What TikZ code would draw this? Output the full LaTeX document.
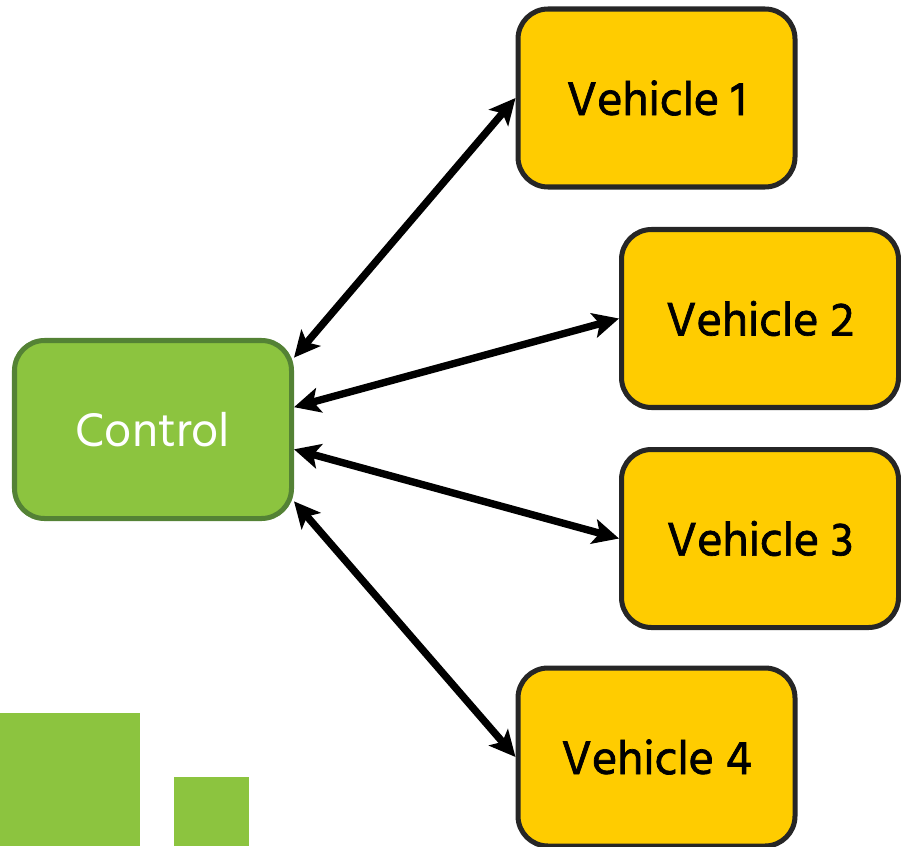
\documentclass[tikz,border=0pt]{standalone}
\usepackage{fontspec}
\setmainfont{Hind Madurai}
\newfontfamily\vehfont{Hind Madurai}[FakeBold=1.4]
\usetikzlibrary{positioning,arrows.meta}

\definecolor{ctrlgreen}{HTML}{8CC43F}
\definecolor{ctrledge}{HTML}{548235}
\definecolor{vehyellow}{HTML}{FFCC00}
\definecolor{vehedge}{HTML}{262626}

\tikzset{
  unitbox/.style={rounded corners=0.6cm, line width=2.85pt,
    minimum width=5.54cm, minimum height=3.56cm,
    font=\fontsize{27.5}{30}\selectfont},
  ctrlbox/.style={unitbox, fill=ctrlgreen, draw=ctrledge, text=white},
  vehbox/.style={unitbox, fill=vehyellow, draw=vehedge,
    font=\vehfont\fontsize{27.5}{30}\selectfont},
  link/.style={line width=4.2pt,
    {Stealth[length=5.2mm,width=5mm,inset=1.2mm]}-{Stealth[length=5.2mm,width=5mm,inset=1.2mm]}}
}

\begin{document}
\begin{tikzpicture}
\useasboundingbox (0,0) rectangle (18.02,-16.92);

% corner decoration
\fill[ctrlgreen] (0,-14.26) rectangle (2.8,-16.92);
\fill[ctrlgreen] (3.48,-15.54) rectangle (4.98,-16.92);

\node[ctrlbox] (ctrl) at (3.06,-8.59) {Control};

\node[vehbox] (veh1) at (13.13,-1.96) {Vehicle 1};
\node[vehbox] (veh2) at (15.2,-6.37) {Vehicle 2};
\node[vehbox] (veh3) at (15.2,-10.77) {Vehicle 3};
\node[vehbox] (veh4) at (13.13,-15.14) {Vehicle 4};

% links to each vehicle
\foreach \v/\a in {1/27, 2/9, 3/-8, 4/-27}
  \draw[link] (ctrl.\a) -- (veh\v.west);
\end{tikzpicture}
\end{document}
